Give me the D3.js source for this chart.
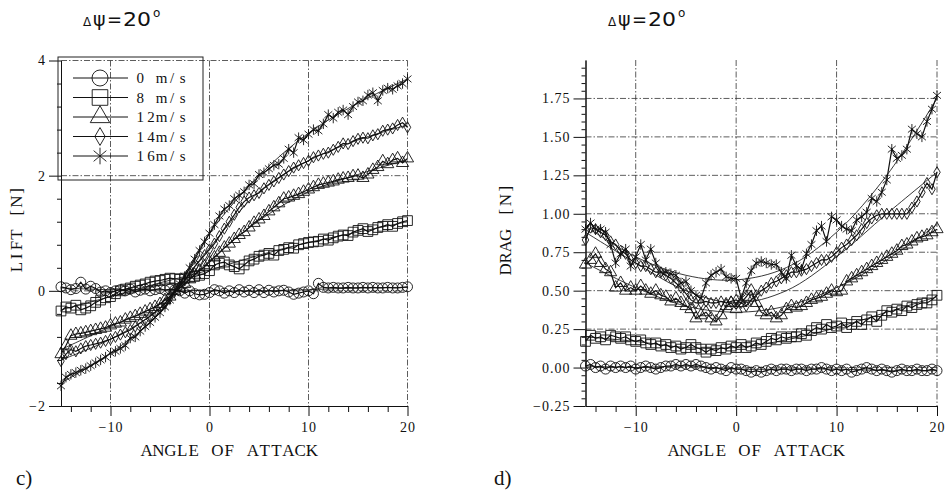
<!DOCTYPE html>
<html>
<head>
<meta charset="utf-8">
<script src="https://cdn.jsdelivr.net/npm/d3@7"></script>
<style>
  body { margin: 0; background: #fff; }
  svg { display: block; }
</style>
</head>
<body>
<svg></svg>
<script>
// angle of attack, one reading every half degree
let angles = [-15,-14.5,-14,-13.5,-13,-12.5,-12,-11.5,-11,-10.5,
              -10,-9.5,-9,-8.5,-8,-7.5,-7,-6.5,-6,-5.5,
              -5,-4.5,-4,-3.5,-3,-2.5,-2,-1.5,-1,-0.5,
              0,0.5,1,1.5,2,2.5,3,3.5,4,4.5,
              5,5.5,6,6.5,7,7.5,8,8.5,9,9.5,
              10,10.5,11,11.5,12,12.5,13,13.5,14,14.5,
              15,15.5,16,16.5,17,17.5,18,18.5,19,19.5,
              20];

let speeds = ['0 m/s', '8 m/s', '12m/s', '14m/s', '16m/s'];
let shapes = ['circle', 'square', 'triangle', 'diamond', 'star'];

// LIFT [N]
let lift0 = [0.07,0.05,0.02,0.04,0.15,0.03,0.08,0.04,-0.02,0.00,
             -0.03,0.00,0.02,0.00,0.03,-0.02,0.01,0.03,0.00,0.02,
             0.04,0.01,0.03,0.02,0.00,-0.04,0.00,-0.05,-0.07,-0.06,
             -0.03,0.02,0.00,-0.04,0.00,-0.03,0.02,-0.02,0.01,-0.03,
             0.02,-0.03,0.01,-0.02,0.00,0.01,-0.02,-0.06,-0.04,-0.02,
             0.00,-0.05,0.13,0.06,0.05,0.06,0.05,0.05,0.06,0.05,
             0.05,0.06,0.05,0.06,0.05,0.05,0.06,0.05,0.05,0.06,
             0.07];
let lift8 = [-0.35,-0.28,-0.30,-0.25,-0.33,-0.30,-0.26,-0.20,-0.16,-0.12,
             -0.10,-0.05,0.00,0.03,0.05,0.08,0.10,0.12,0.15,0.17,
             0.18,0.20,0.22,0.21,0.20,0.22,0.24,0.25,0.27,0.30,
             0.35,0.45,0.48,0.50,0.45,0.42,0.38,0.45,0.52,0.55,
             0.60,0.62,0.65,0.62,0.70,0.72,0.75,0.74,0.80,0.82,
             0.84,0.85,0.86,0.90,0.88,0.92,0.95,0.97,0.96,1.02,
             1.05,1.08,1.03,1.06,1.10,1.12,1.15,1.12,1.17,1.20,
             1.22];
let lift12 = [-1.10,-0.95,-0.78,-0.75,-0.74,-0.72,-0.70,-0.68,-0.66,-0.64,
              -0.60,-0.57,-0.55,-0.50,-0.47,-0.44,-0.40,-0.36,-0.32,-0.28,
              -0.23,-0.16,-0.10,0.00,0.05,0.12,0.20,0.28,0.35,0.42,
              0.50,0.58,0.66,0.75,0.82,0.90,0.97,1.02,1.10,1.18,
              1.24,1.30,1.38,1.45,1.52,1.60,1.62,1.65,1.68,1.72,
              1.76,1.80,1.84,1.86,1.88,1.90,1.93,1.95,1.96,1.99,
              2.00,1.96,2.02,2.10,2.15,2.25,2.20,2.27,2.30,2.22,
              2.30];
let lift14 = [-1.22,-1.10,-1.02,-1.05,-1.00,-0.96,-0.94,-0.92,-0.90,-0.87,
              -0.84,-0.80,-0.76,-0.72,-0.68,-0.62,-0.56,-0.50,-0.44,-0.37,
              -0.30,-0.22,-0.12,0.00,0.08,0.18,0.30,0.42,0.52,0.62,
              0.72,0.82,0.95,1.08,1.20,1.32,1.45,1.55,1.62,1.66,
              1.70,1.78,1.84,1.90,1.96,2.02,2.08,2.14,2.18,2.22,
              2.26,2.32,2.35,2.38,2.40,2.45,2.50,2.56,2.55,2.60,
              2.64,2.66,2.65,2.70,2.72,2.78,2.80,2.82,2.88,2.92,
              2.84];
let lift16 = [-1.65,-1.50,-1.45,-1.42,-1.38,-1.35,-1.30,-1.25,-1.20,-1.15,
              -1.08,-1.05,-1.00,-0.95,-0.82,-0.80,-0.70,-0.62,-0.55,-0.46,
              -0.38,-0.28,-0.16,-0.02,0.12,0.25,0.40,0.55,0.70,0.85,
              1.00,1.15,1.30,1.42,1.48,1.60,1.66,1.72,1.84,1.86,
              2.02,2.05,2.12,2.18,2.20,2.30,2.46,2.40,2.66,2.62,
              2.72,2.80,2.78,2.90,3.06,3.00,3.10,3.14,3.06,3.20,
              3.28,3.30,3.40,3.44,3.30,3.48,3.52,3.50,3.56,3.60,
              3.68];

// DRAG [N]
let drag0 = [0.01,0.02,0.00,0.01,-0.01,0.01,0.00,0.01,0.00,0.01,
             -0.01,0.00,0.01,0.00,-0.01,0.00,0.01,0.01,0.02,0.01,
             0.02,0.01,0.02,0.01,0.00,-0.01,0.00,-0.01,-0.02,0.00,
             -0.01,-0.01,-0.02,-0.03,-0.02,-0.03,-0.02,-0.01,-0.02,-0.01,
             -0.01,-0.02,-0.01,-0.01,-0.02,-0.01,-0.01,0.00,-0.01,-0.02,
             -0.01,-0.02,-0.01,-0.03,-0.02,-0.01,0.00,-0.01,-0.02,-0.01,
             -0.02,-0.03,-0.02,-0.01,-0.02,-0.02,-0.01,-0.02,-0.02,-0.01,
             -0.02];
let drag8 = [0.17,0.21,0.19,0.20,0.18,0.21,0.20,0.19,0.20,0.18,
             0.17,0.18,0.16,0.15,0.16,0.14,0.15,0.13,0.14,0.12,
             0.13,0.15,0.13,0.12,0.10,0.12,0.11,0.13,0.12,0.14,
             0.13,0.15,0.13,0.14,0.16,0.15,0.17,0.19,0.18,0.20,
             0.19,0.20,0.20,0.22,0.21,0.24,0.26,0.25,0.28,0.26,
             0.27,0.29,0.26,0.28,0.30,0.28,0.31,0.33,0.30,0.34,
             0.37,0.36,0.38,0.37,0.40,0.39,0.41,0.42,0.42,0.44,
             0.47];
let drag12 = [0.67,0.70,0.74,0.68,0.64,0.62,0.52,0.55,0.50,0.52,
              0.50,0.53,0.50,0.48,0.50,0.47,0.46,0.43,0.45,0.42,
              0.40,0.38,0.32,0.34,0.36,0.32,0.30,0.34,0.40,0.42,
              0.38,0.42,0.46,0.50,0.42,0.36,0.34,0.36,0.32,0.34,
              0.38,0.40,0.39,0.40,0.42,0.44,0.45,0.46,0.48,0.50,
              0.49,0.50,0.56,0.58,0.60,0.62,0.64,0.66,0.68,0.70,
              0.72,0.74,0.76,0.79,0.80,0.82,0.84,0.85,0.86,0.88,
              0.90];
let drag14 = [0.83,0.91,0.90,0.88,0.86,0.82,0.80,0.76,0.74,0.70,
              0.68,0.66,0.66,0.64,0.62,0.62,0.60,0.58,0.55,0.52,
              0.48,0.44,0.42,0.42,0.43,0.42,0.42,0.43,0.42,0.43,
              0.44,0.42,0.40,0.44,0.47,0.50,0.52,0.55,0.56,0.58,
              0.60,0.62,0.62,0.63,0.64,0.66,0.68,0.70,0.70,0.72,
              0.75,0.78,0.80,0.83,0.86,0.90,0.94,0.97,0.99,1.00,
              1.00,1.00,1.00,1.00,1.00,1.04,1.08,1.14,1.20,1.16,
              1.27];
let drag16 = [0.90,0.94,0.90,0.90,0.88,0.80,0.68,0.74,0.77,0.66,
              0.72,0.80,0.70,0.77,0.68,0.62,0.62,0.61,0.60,0.55,
              0.56,0.50,0.47,0.45,0.55,0.60,0.62,0.64,0.59,0.58,
              0.58,0.45,0.55,0.63,0.68,0.69,0.68,0.67,0.67,0.62,
              0.58,0.73,0.66,0.64,0.74,0.80,0.89,0.92,0.82,0.98,
              0.96,0.92,0.90,0.89,0.96,0.98,1.01,1.10,1.08,1.14,
              1.22,1.42,1.36,1.38,1.42,1.55,1.52,1.50,1.60,1.68,
              1.77];

// smooth fitted curves, read every 5 degrees
let fitAngles = [-15, -10, -5, 0, 5, 10, 15, 20];
let liftFit0 = [0.05, 0.02, 0.02, 0.00, 0.00, 0.02, 0.05, 0.06];
let liftFit8 = [-0.33, -0.10, 0.14, 0.36, 0.62, 0.84, 1.02, 1.20];
let liftFit12 = [-1.02, -0.62, -0.22, 0.52, 1.22, 1.72, 2.02, 2.28];
let liftFit14 = [-1.20, -0.84, -0.30, 0.75, 1.72, 2.26, 2.62, 2.88];
let liftFit16 = [-1.60, -1.08, -0.38, 1.00, 2.00, 2.74, 3.26, 3.68];
let dragFit0 = [0.01, 0.00, 0.01, -0.01, -0.01, -0.01, -0.02, -0.02];
let dragFit8 = [0.20, 0.17, 0.13, 0.13, 0.18, 0.26, 0.36, 0.46];
let dragFit12 = [0.68, 0.52, 0.40, 0.36, 0.40, 0.52, 0.70, 0.93];
let dragFit14 = [0.88, 0.68, 0.50, 0.42, 0.50, 0.72, 1.00, 1.27];
let dragFit16 = [0.92, 0.72, 0.60, 0.57, 0.65, 0.88, 1.25, 1.75];

// ticks
let angleTicks = [-10, 0, 10, 20];
let angleMinor = [-14, -12, -8, -6, -4, -2, 2, 4, 6, 8, 12, 14, 16, 18];
let liftTicks = [-2, 0, 2, 4];
let liftMinor = [-1.6, -1.2, -0.8, -0.4, 0.4, 0.8, 1.2, 1.6, 2.4, 2.8, 3.2, 3.6];
let dragTicks = [-0.25, 0, 0.25, 0.5, 0.75, 1.0, 1.25, 1.5, 1.75];
let dragMinor = d3.range(-0.2, 2.001, 0.05).filter((v) => Math.abs(Math.round(v * 4) - v * 4) > 0.01);

let width = 946;
let height = 493;
let serif = '"Liberation Serif", "DejaVu Serif", serif';

let svg = d3.select('svg').attr('width', width).attr('height', height);
svg.append('rect').attr('width', width).attr('height', height).attr('fill', '#fff');

let panels = [
  {left: 61, right: 407.5, top: 60.5, bottom: 406, yDomain: [-2, 4],
   yTicks: liftTicks, yMinor: liftMinor, yGrid: [0, 2, 4], fmt: d3.format('d'),
   series: [lift0, lift8, lift12, lift14, lift16],
   fits: [liftFit0, liftFit8, liftFit12, liftFit14, liftFit16],
   yLabel: 'LIFT [N]', yLabelX: 16, yLabelPitch: 10.9,
   titleX: 83, tag: 'c)', tagX: 16, legend: true},
  {left: 585.5, right: 937, top: 60, bottom: 406, yDomain: [-0.25, 2.0],
   yTicks: dragTicks, yMinor: dragMinor, yGrid: [0, 0.25, 0.5, 0.75, 1.0, 1.25, 1.5, 1.75], fmt: d3.format('.2f'),
   series: [drag0, drag8, drag12, drag14, drag16],
   fits: [dragFit0, dragFit8, dragFit12, dragFit14, dragFit16],
   yLabel: 'DRAG [N]', yLabelX: 505, yLabelPitch: 11.5,
   titleX: 608, tag: 'd)', tagX: 494, legend: false}
];

let markerPath = (shape, k) => {
  if (shape === 'circle') return d3.symbol(d3.symbolCircle, Math.PI * 25 * k * k)();
  if (shape === 'square') return d3.symbol(d3.symbolSquare, 95 * k * k)();
  if (shape === 'triangle') return d3.symbol(d3.symbolTriangle, 64 * k * k)();
  if (shape === 'diamond') return d3.symbol(d3.symbolDiamond, 36 * k * k)();
  // asterisk: vertical stroke plus an X
  let r = 5.2 * k;
  let a = r * Math.cos(Math.PI / 4.5);
  let b = r * Math.sin(Math.PI / 4.5);
  return `M0,${-r}V${r}M${-a},${-b}L${a},${b}M${-a},${b}L${a},${-b}`;
};

// characters laid out on a fixed pitch, like the plotter font
let spacedText = (g, str, x0, pitch, y, size) => {
  let xs = str.split('').map((c, i) => (x0 + pitch * (i + 0.5)).toFixed(1));
  return g.append('text')
          .attr('x', xs.join(' '))
          .attr('y', y)
          .attr('text-anchor', 'middle')
          .style('font-family', serif)
          .style('font-size', size + 'px')
          .attr('fill', '#111')
          .text(str);
};

let drawTitle = (x0) => {
  let t = svg.append('text')
             .attr('y', 26)
             .style('font-family', '"DejaVu Sans", sans-serif')
             .attr('fill', '#111');
  t.append('tspan').attr('x', x0).style('font-size', '12px').text('Δ');
  t.append('tspan').attr('x', x0 + 10).style('font-size', '19px').text('ψ');
  t.append('tspan').attr('x', x0 + 24).attr('textLength', 15).attr('lengthAdjust', 'spacingAndGlyphs')
   .style('font-size', '19px').text('=');
  t.append('tspan').attr('x', x0 + 40).style('font-size', '20px')
   .attr('textLength', 28).attr('lengthAdjust', 'spacingAndGlyphs').text('20');
  t.append('tspan').attr('x', x0 + 70).attr('y', 17).style('font-size', '12px').text('o');
};

let drawPanel = (p) => {
  let xScale = d3.scaleLinear().domain([-15, 20]).range([p.left, p.right]);
  let yScale = d3.scaleLinear().domain(p.yDomain).range([p.bottom, p.top]);
  let grid = svg.append('g')
                .attr('stroke', '#333')
                .attr('stroke-width', 0.8)
                .attr('stroke-dasharray', '6,2,1.5,2');

  // dotted grid
  grid.selectAll('.vgrid')
      .data(angleTicks)
      .enter()
      .append('line')
      .attr('x1', (d) => xScale(d))
      .attr('x2', (d) => xScale(d))
      .attr('y1', p.top)
      .attr('y2', p.bottom);
  grid.selectAll('.hgrid')
      .data(p.yGrid)
      .enter()
      .append('line')
      .attr('x1', p.left)
      .attr('x2', p.right)
      .attr('y1', (d) => yScale(d))
      .attr('y2', (d) => yScale(d));

  // axes
  let yMinorAxis = d3.axisLeft(yScale).tickValues(p.yMinor).tickSize(4).tickSizeOuter(0).tickFormat('');
  let yAxis = d3.axisLeft(yScale).tickValues(p.yTicks).tickSize(12).tickSizeOuter(0).tickPadding(3).tickFormat(p.fmt);
  let xMinorAxis = d3.axisBottom(xScale).tickValues(angleMinor).tickSize(6).tickSizeOuter(0).tickFormat('');
  let xAxis = d3.axisBottom(xScale).tickValues(angleTicks).tickSize(10).tickSizeOuter(0).tickPadding(6).tickFormat(d3.format('d'));

  [yMinorAxis, yAxis].forEach((ax) => {
    svg.append('g')
       .attr('transform', 'translate(' + p.left + ',0)')
       .call(ax);
  });
  [xMinorAxis, xAxis].forEach((ax) => {
    svg.append('g')
       .attr('transform', 'translate(0,' + p.bottom + ')')
       .call(ax);
  });

  // fitted curves
  let fitLine = d3.line()
                  .x((d) => xScale(d[0]))
                  .y((d) => yScale(d[1]))
                  .curve(d3.curveCatmullRom.alpha(0.5));
  svg.append('g')
     .selectAll('path')
     .data(p.fits)
     .enter()
     .append('path')
     .attr('d', (d) => fitLine(d3.zip(fitAngles, d)))
     .attr('fill', 'none')
     .attr('stroke', '#222')
     .attr('stroke-width', 0.9);

  // measured lines
  let dataLine = d3.line()
                   .x((d) => xScale(d[0]))
                   .y((d) => yScale(d[1]));
  svg.append('g')
     .selectAll('path')
     .data(p.series)
     .enter()
     .append('path')
     .attr('d', (d) => dataLine(d3.zip(angles, d)))
     .attr('fill', 'none')
     .attr('stroke', '#111')
     .attr('stroke-width', 1.2);

  // markers
  p.series.forEach((values, i) => {
    svg.append('g')
       .selectAll('path')
       .data(d3.zip(angles, values))
       .enter()
       .append('path')
       .attr('d', markerPath(shapes[i], 1))
       .attr('transform', (d) => 'translate(' + xScale(d[0]) + ',' + yScale(d[1]) + ')')
       .attr('fill', 'none')
       .attr('stroke', '#111')
       .attr('stroke-width', 0.9);
  });

  // y label, rotated
  let yl = svg.append('g')
              .attr('transform', 'translate(' + p.yLabelX + ',229) rotate(-90)');
  spacedText(yl, p.yLabel, -p.yLabelPitch * p.yLabel.length / 2, p.yLabelPitch, 6, 17);

  // x label
  let cx = (xScale(-15) + xScale(20)) / 2 - 5;
  spacedText(svg, 'ANGLE OF ATTACK', cx - 11.8 * 15 / 2, 11.8, 456, 17);

  svg.append('text')
     .attr('x', p.tagX)
     .attr('y', 485)
     .style('font-family', serif)
     .style('font-size', '21px')
     .attr('fill', '#111')
     .text(p.tag);

  drawTitle(p.titleX);

  if (p.legend) {
    let lg = svg.append('g');
    lg.append('rect')
      .attr('x', 58).attr('y', 57)
      .attr('width', 145).attr('height', 123)
      .attr('fill', 'none')
      .attr('stroke', '#222')
      .attr('stroke-width', 1);
    speeds.forEach((s, i) => {
      let y = 78 + i * 19.5;
      lg.append('line')
        .attr('x1', 73).attr('x2', 128)
        .attr('y1', y).attr('y2', y)
        .attr('stroke', '#111')
        .attr('stroke-width', 1);
      lg.append('path')
        .attr('d', markerPath(shapes[i], 1.6))
        .attr('transform', 'translate(100,' + y + ')')
        .attr('fill', 'none')
        .attr('stroke', '#111')
        .attr('stroke-width', 0.9);
      spacedText(lg, s, 135, 10.6, y + 5, 15);
    });
  }
};

panels.forEach((p) => drawPanel(p));

// tick styling
svg.selectAll('.tick text')
   .style('font-family', serif)
   .style('font-size', '14px')
   .style('letter-spacing', '1px')
   .attr('fill', '#111');
svg.selectAll('.domain, .tick line').attr('stroke', '#111');
</script>
</body>
</html>
